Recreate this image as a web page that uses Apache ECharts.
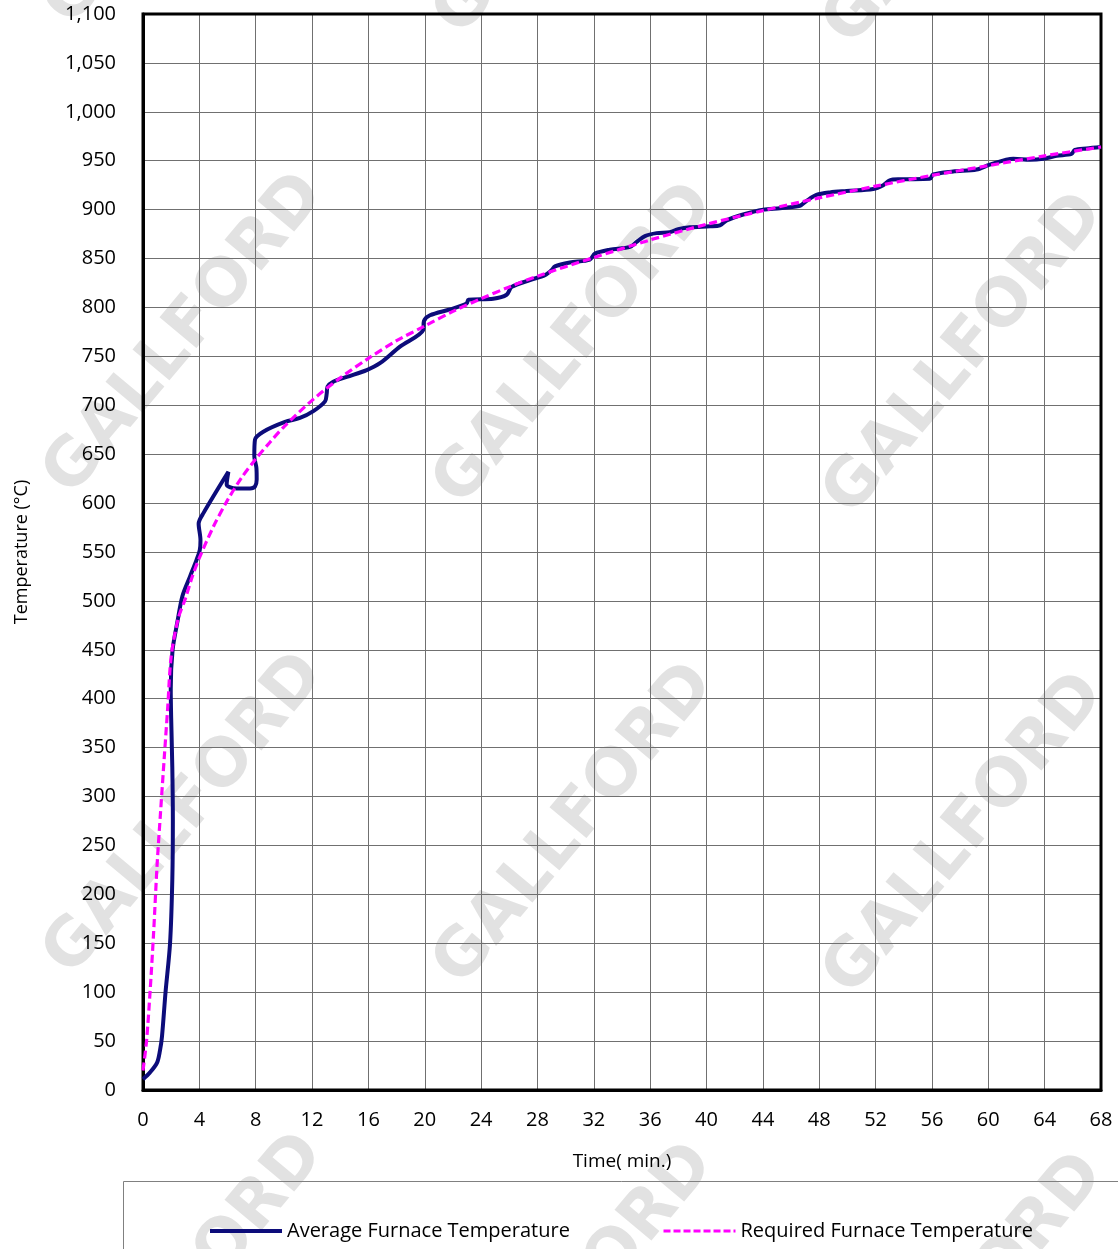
<!DOCTYPE html>
<html>
<head>
<meta charset="utf-8">
<title>Furnace Temperature</title>
<script src="https://cdn.jsdelivr.net/npm/echarts@6/dist/echarts.min.js"></script>
<style>
    html, body { margin: 0; padding: 0; background: #fff; }
    #chart { width: 1118px; height: 1249px; }
</style>
</head>
<body>
<div id="chart"></div>
<script>
// 平均炉温 (读图估计, 时间可回折 -- 原图平滑曲线的回弯)
var avgTime = [0, 0.5, 1.0, 1.2, 1.35, 1.6, 1.92, 2.08, 2.12, 2.08, 2.0, 1.97, 2.1, 2.46, 2.8, 3.34, 3.8, 4.03, 4.08,
    3.95, 4.3, 6.06, 5.94, 6.2, 6.65, 7.6, 7.95, 8.07, 8.05, 7.9, 7.95, 8.54, 10.08, 11.14, 12.09, 12.92, 13.04, 13.1,
    13.5, 14.46, 15.88, 16.82, 18.24, 19.89, 19.94, 20.37, 21.79, 22.97, 23.1, 24.86, 25.81, 26.17, 27.47, 28.53, 29.0,
    29.24, 30.3, 31.72, 32.08, 33.14, 34.56, 35.04, 35.63, 36.46, 37.4, 37.99, 38.82, 40.24, 40.95, 41.43, 42.6, 44.02,
    45.21, 46.63, 47.1, 47.8, 48.76, 49.94, 51.83, 52.54, 53.0, 53.73, 55.85, 56.09, 57.5, 59.17, 60.11, 61.77, 62.95,
    63.9, 64.85, 65.91, 66.14, 66.97, 68];
var avgTemp = [11, 18, 28, 40, 55, 100, 150, 215, 276, 330, 380, 410, 450, 480, 505, 525, 542, 552, 562,
    579, 590, 632, 619, 616, 615, 615, 617, 624, 636, 648, 665, 673, 683, 687, 694, 704, 712, 719,
    724, 729, 736, 743, 760, 777, 786, 792, 798, 804, 808, 809, 813, 821, 828, 833, 838,
    842, 846, 849, 855, 859, 862, 867, 873, 876, 877, 880, 882, 883, 884, 889, 895, 900,
    901.5, 904, 909, 915, 917.6, 919, 921, 925, 930, 931, 931.5, 936, 939, 941, 946, 952, 951,
    952, 955, 957, 961, 962.5, 964];

// 要求炉温
var reqTime = [0, 0.25, 0.5, 0.75, 1.0, 1.25, 1.5, 1.75, 2.0, 2.5, 3, 3.5, 4, 5, 6, 7, 8, 9, 10, 12, 14, 16, 18, 20,
    22, 24, 26, 28, 32, 36, 40, 44, 48, 52, 56, 60, 64, 68];
var reqTemp = [20, 50, 100, 160, 230, 285, 338, 390, 443, 482, 502, 525, 544, 576, 603, 626, 645, 662, 678, 705, 728,
    748, 766, 781, 796, 809, 821, 832, 851, 869, 885, 899, 912, 924, 935, 945, 955, 964];

var seriesNames = ['Average Furnace Temperature', 'Required Furnace Temperature'];

function pairs(xs, ys) {
    return xs.map(function(x, i) { return [x, ys[i]]; });
}

var FONT = '"Open Sans", "Noto Sans", sans-serif';

// 水印
var marks = [];
[[185, -135], [575, -125], [965, -115], [185, 335], [575, 345], [965, 355],
 [185, 815], [575, 825], [965, 835], [185, 1295], [575, 1305], [965, 1315]].forEach(function(p) {
    marks.push({
        type: 'text',
        x: p[0],
        y: p[1],
        rotation: 50 * Math.PI / 180,
        z: -10,
        silent: true,
        style: {
            text: 'GALLFORD',
            align: 'center',
            verticalAlign: 'middle',
            font: 'bold 66px "DejaVu Sans"',
            fill: '#e2e2e2'
        }
    });
});
marks.push({
    type: 'rect',
    shape: { x: 123.5, y: 1181.5, width: 1010, height: 80 },
    z: 1,
    silent: true,
    style: { fill: 'none', stroke: '#808080', lineWidth: 1 }
});

var chart = echarts.init(document.getElementById('chart'));
var option = {
    animation: false,
    backgroundColor: '#fff',
    graphic: marks,
    grid: {
        left: 143,
        right: 17,
        top: 14,
        bottom: 159,
        show: true,
        borderColor: '#000',
        borderWidth: 3,
        z: 3
    },
    legend: [{
        data: [seriesNames[0]],
        left: 203,
        top: 1216,
        itemWidth: 72,
        itemHeight: 14,
        itemGap: 0,
        itemStyle: { opacity: 0 },
        lineStyle: { color: '#0c0c7a', width: 4, type: 'solid' },
        textStyle: { fontFamily: FONT, fontSize: 20, color: '#000' }
    }, {
        data: [seriesNames[1]],
        left: 657,
        top: 1216,
        itemWidth: 72,
        itemHeight: 14,
        itemGap: 0,
        itemStyle: { opacity: 0 },
        lineStyle: { color: '#ff00ff', width: 3, type: [7, 3] },
        textStyle: { fontFamily: FONT, fontSize: 20, color: '#000' }
    }],
    xAxis: {
        type: 'value',
        min: 0,
        max: 68,
        interval: 4,
        name: 'Time( min.)',
        nameLocation: 'middle',
        nameGap: 62,
        nameTextStyle: { fontFamily: FONT, fontSize: 19, color: '#000' },
        axisLine: { show: true, lineStyle: { color: '#000', width: 3 } },
        axisTick: { show: false },
        axisLabel: { margin: 20, fontFamily: FONT, fontSize: 20, color: '#000' },
        splitLine: { show: true, lineStyle: { color: '#707070', width: 1 } }
    },
    yAxis: {
        type: 'value',
        min: 0,
        max: 1100,
        interval: 50,
        name: 'Temperature (°C)',
        nameLocation: 'middle',
        nameGap: 112,
        nameTextStyle: { fontFamily: FONT, fontSize: 18, color: '#000' },
        axisLine: { show: true, lineStyle: { color: '#000', width: 3 } },
        axisTick: { show: false },
        axisLabel: {
            margin: 27,
            fontFamily: FONT,
            fontSize: 20,
            color: '#000',
            formatter: function(v) { return v.toLocaleString('en-US'); }
        },
        splitLine: { show: true, lineStyle: { color: '#707070', width: 1 } }
    },
    series: [{
        name: seriesNames[0],
        type: 'line',
        data: pairs(avgTime, avgTemp),
        smooth: 0.3,
        showSymbol: false,
        symbol: 'none',
        color: '#0c0c7a',
        lineStyle: { color: '#0c0c7a', width: 4 },
        z: 4
    }, {
        name: seriesNames[1],
        type: 'line',
        data: pairs(reqTime, reqTemp),
        smooth: 0.3,
        showSymbol: false,
        symbol: 'none',
        color: '#ff00ff',
        lineStyle: { color: '#ff00ff', width: 3.2, type: [8, 4] },
        z: 5
    }]
};
chart.setOption(option);
</script>
</body>
</html>
